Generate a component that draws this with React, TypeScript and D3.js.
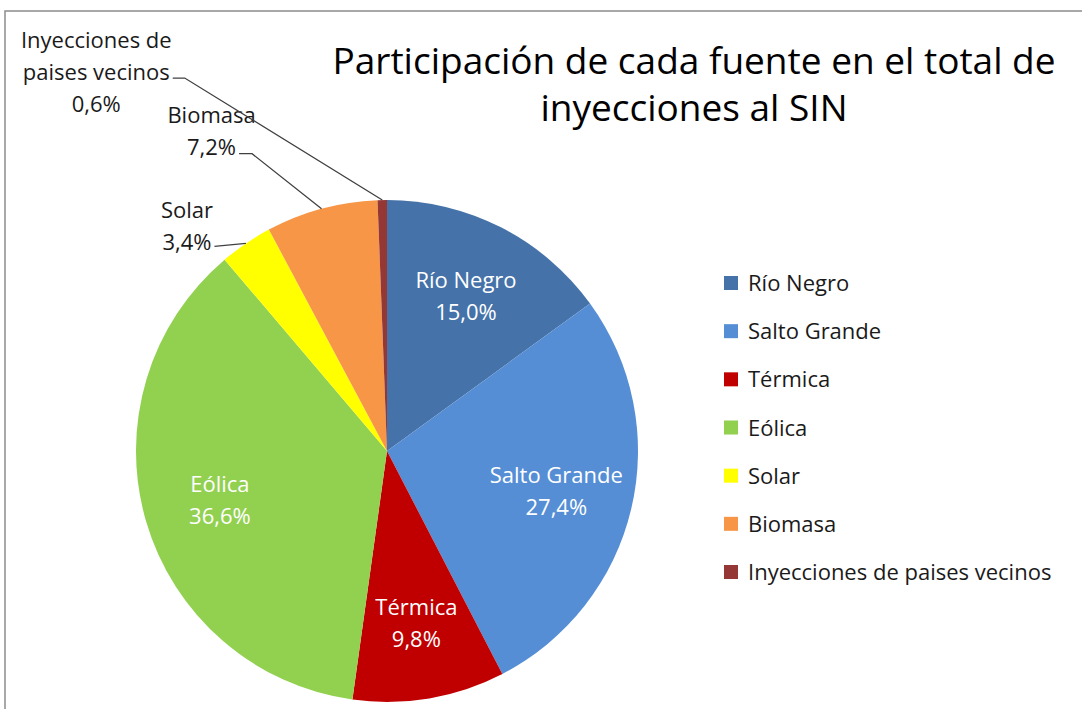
import React from "react"
import * as d3 from "d3"

// Data
const categories = [
  "Río Negro",
  "Salto Grande",
  "Térmica",
  "Eólica",
  "Solar",
  "Biomasa",
  "Inyecciones de paises vecinos",
]
const shares = [15.0, 27.4, 9.8, 36.6, 3.4, 7.2, 0.6]
const colors = ["#4572A8", "#558ED5", "#C00000", "#92D050", "#FFFF00", "#F79646", "#953735"]
const title = ["Participación de cada fuente en el total de", "inyecciones al SIN"]

// label text lines for slices whose label sits outside the pie
const outsideLines: Record<string, string[]> = {
  Solar: ["Solar"],
  Biomasa: ["Biomasa"],
  "Inyecciones de paises vecinos": ["Inyecciones de", "paises vecinos"],
}

// where the outside labels were dragged to: first baseline relative to the slice edge point,
// which text row the leader hangs off, and the length of the flat elbow
const outsideOffset: Record<string, { dx: number; dy: number; row: number; rise: number; elbow: number }> = {
  Solar: { dx: -59, dy: -25, row: 1, rise: 4, elbow: 0 },
  Biomasa: { dx: -110, dy: -86, row: 1, rise: 1, elbow: 13 },
  "Inyecciones de paises vecinos": { dx: -286, dy: -152, row: 1, rise: 2, elbow: 12 },
}

const fmt = (v: number) => v.toFixed(1).replace(".", ",") + "%"

const FONT = "'Open Sans', sans-serif"
const LABEL_SIZE = 22

// measure text so the leader lines start right after the label text
const ctx = typeof document !== "undefined" ? document.createElement("canvas").getContext("2d") : null
const textWidth = (t: string, size: number) => {
  if (!ctx) return t.length * size * 0.5
  ctx.font = `${size}px ${FONT}`
  return ctx.measureText(t).width
}

export default function App() {
  // Dimensions
  const W = 1082
  const H = 709
  const cx = 387
  const cy = 451
  const R = 251
  const lineGap = 32

  const pie = d3
    .pie<number>()
    .sort(null)
    .value(d => d)
  const arcs = pie(shares)
  const arc = d3.arc<d3.PieArcDatum<number>>().innerRadius(0).outerRadius(R)
  const labelArc = d3.arc<d3.PieArcDatum<number>>().innerRadius(174).outerRadius(174)
  const edgeArc = d3.arc<d3.PieArcDatum<number>>().innerRadius(R).outerRadius(R)

  const legendY = d3
    .scalePoint<string>()
    .domain(categories)
    .range([283, 572])

  return (
    <svg
      width={W}
      height={H}
      style={{ position: "absolute", left: 0, top: 0, background: "#fff" }}
      fontFamily={FONT}
    >
      {/* chart frame */}
      <rect x={5} y={11} width={W + 20} height={H + 20} fill="#fff" stroke="#8c8c8c" strokeWidth={1.5} />

      {title.map((t, i) => (
        <text key={i} x={694} y={74 + i * 47} textAnchor="middle" fontSize={37} fill="#000">
          {t}
        </text>
      ))}

      <g transform={`translate(${cx},${cy})`}>
        {arcs.map((a, i) => (
          <path key={i} d={arc(a) || ""} fill={colors[i]} />
        ))}

        {arcs.map((a, i) => {
          const name = categories[i]
          if (outsideLines[name]) return null
          const [x, y] = labelArc.centroid(a)
          return (
            <text key={i} textAnchor="middle" fontSize={LABEL_SIZE} fill="#fff">
              <tspan x={x} y={y - lineGap / 2 + 8}>{name}</tspan>
              <tspan x={x} y={y + lineGap / 2 + 8}>{fmt(shares[i])}</tspan>
            </text>
          )
        })}

        {arcs.map((a, i) => {
          const name = categories[i]
          const lines = outsideLines[name]
          if (!lines) return null
          const off = outsideOffset[name]
          const [ex, ey] = edgeArc.centroid(a)
          const all = [...lines, fmt(shares[i])]
          const lx = ex + off.dx
          const ly = ey + off.dy
          const rowY = ly + off.row * lineGap - off.rise
          const textEnd = lx + textWidth(all[off.row], LABEL_SIZE) / 2
          const pts: [number, number][] = [
            [textEnd + 3, rowY],
            [textEnd + 3 + off.elbow, rowY],
            [ex, ey],
          ]
          return (
            <g key={i}>
              <path d={d3.line()(pts) || ""} fill="none" stroke="#404040" strokeWidth={1.3} />
              <text textAnchor="middle" fontSize={LABEL_SIZE} fill="#1a1a1a">
                {all.map((t, j) => (
                  <tspan key={j} x={lx} y={ly + j * lineGap}>
                    {t}
                  </tspan>
                ))}
              </text>
            </g>
          )
        })}
      </g>

      {/* legend */}
      {categories.map((c, i) => (
        <g key={c} transform={`translate(724,${legendY(c)})`}>
          <rect x={0} y={-7} width={14} height={14} fill={colors[i]} />
          <text x={24} y={8} fontSize={LABEL_SIZE} fill="#1a1a1a">
            {c}
          </text>
        </g>
      ))}
    </svg>
  )
}
